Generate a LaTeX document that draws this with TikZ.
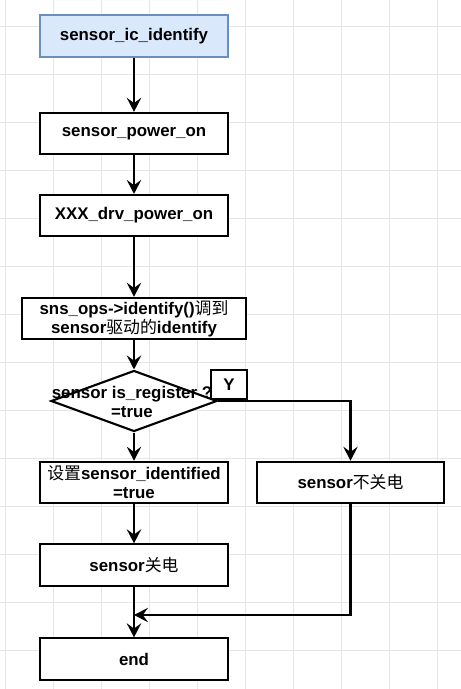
\documentclass[tikz,border=0pt]{standalone}
\usepackage{fontspec}
\setmainfont{Liberation Sans}
\newfontfamily\cjk{Noto Sans CJK SC}
\newcommand{\zh}[1]{{\cjk\mdseries #1}}
\usetikzlibrary{shapes.geometric,arrows.meta}

\definecolor{startfill}{HTML}{DAE8FC}
\definecolor{startline}{HTML}{6C8EBF}
\definecolor{gridgray}{HTML}{E6E6E6}

\begin{document}
\begin{tikzpicture}[box/.style={rectangle,draw,line width=1.5pt,fill=white,minimum width=4.7cm,minimum height=1.03cm,
                      align=center,inner sep=1pt,font=\fontsize{12}{13.5}\selectfont\bfseries},
                    decision/.style={diamond,draw,line width=1.5pt,fill=white,minimum width=4.15cm,minimum height=1.525cm,inner sep=0pt},
                    gridline/.style={gridgray,line width=0.6pt},
                    arr/.style={line width=1.5pt,-{Stealth[length=3.5mm,width=3.6mm,inset=1.3mm]}}]

\useasboundingbox (0,0) rectangle (11.525,-17.225);
\fill[white] (0,0) rectangle (11.525,-17.225);

% background grid
\foreach \x in {0,...,9} \draw[gridline] ({0.1325+1.2*\x},0) -- ++(0,-17.225);
\foreach \y in {0,...,13} \draw[gridline] (0,{-0.6675-1.2*\y}) -- ++(11.525,0);

% main column
\draw (3.35,-0.9) node[box,fill=startfill,draw=startline,line width=0.9pt,minimum height=1.05cm] (start) {sensor\_ic\_identify}
      (3.35,-3.3375) node[box] (power) {sensor\_power\_on}
      (3.35,-5.39) node[box] (drv) {XXX\_drv\_power\_on}
      (3.35,-7.96) node[box,minimum width=5.6cm] (ops) {sns\_ops->identify()\zh{调到}\\sensor\zh{驱动的}identify}
      (3.35,-10.025) node[decision] (q) {}
      (3.3,-10.05) node[align=center,font=\fontsize{12}{13.5}\selectfont\bfseries] (qtext) {sensor is\_register ?\\=true}
      (3.35,-12.06) node[box] (set) {\zh{设置}sensor\_identified\\=true}
      (3.35,-14.125) node[box] (off) {sensor\zh{关电}}
      (3.35,-16.475) node[box] (endbox) {end};

% right branch
\draw (8.7625,-12.06) node[box,minimum width=4.675cm] (notoff) {sensor\zh{不关电}};
\coordinate (merge) at (3.35,-15.375);

\draw[arr] (start) -- (power);
\draw[arr] (power) -- (drv);
\draw[arr] (drv) -- (ops);
\draw[arr] (ops) -- (q);
\draw[arr] (q) -- (set);
\draw[arr] (q.east) -| (notoff);
\draw[arr] (set) -- (off);
\draw[arr] (off) -- (endbox);
\draw[arr] (notoff) |- (merge);

\draw (5.725,-9.6125) node[box,minimum width=0.9cm,minimum height=0.725cm] (yes) {Y};
\end{tikzpicture}
\end{document}
